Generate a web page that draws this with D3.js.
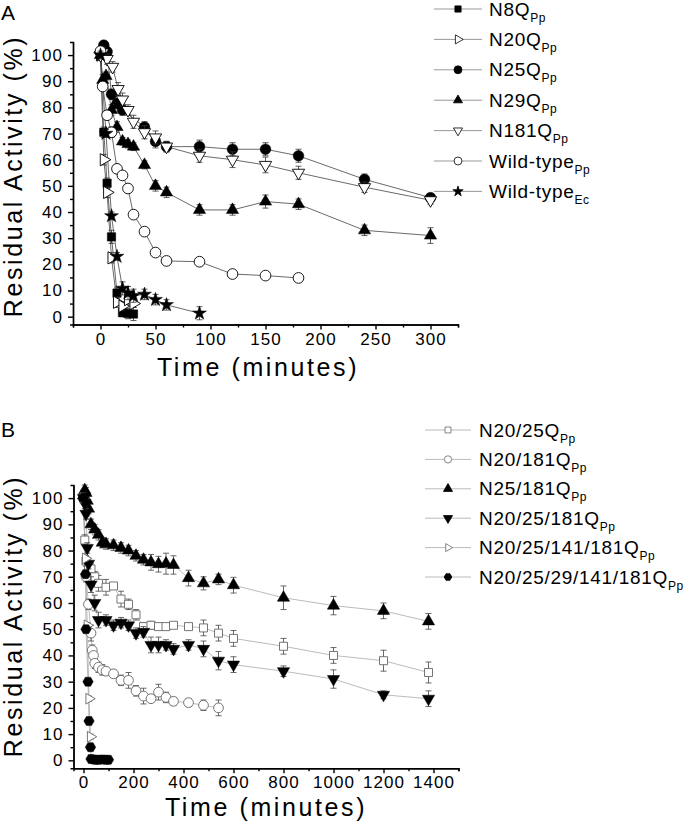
<!DOCTYPE html>
<meta charset="utf-8">
<html>
<head>
  <script src="https://d3js.org/d3.v7.min.js"></script>
  <style>
    body { margin: 0; background: #fff; }
    svg text { font-family: 'Liberation Sans', Arial, sans-serif; fill: #000; }
    .axis path, .axis line { stroke: #000; stroke-width: 1.4; fill: none; }
    .axis text { font-size: 17px; letter-spacing: 1.1px; }
    .title { font-size: 25px; letter-spacing: 2.6px; }
    .leg { font-size: 19px; letter-spacing: 0.7px; }
  </style>
</head>
<body>
<script>
// ---- Panel A data (time in minutes, residual activity %) ----
var n8qT = [0, 3, 6, 10, 15, 20, 25, 30];
var n8qV = [100, 70.5, 51, 30.5, 9, 1.5, 1.2, 1];
var n8qE = [1.5, 2, 2, 2.5, 2, 1.5, 2, 2.5];

var n20qT = [0, 3, 6, 10, 15, 20, 25, 30];
var n20qV = [100, 60, 47.5, 22.5, 5.5, 4, 6.5, 5];
var n20qE = [1.5, 2, 2, 2, 2, 1.5, 2, 1.5];

var n25qT = [0, 3, 6, 10, 15, 20, 40, 50, 60, 90, 120, 150, 180, 240, 300];
var n25qV = [101, 103.8, 101.3, 85, 81.5, 79, 72.5, 67, 65, 65, 64, 64, 61.5, 52.5, 45.5];
var n25qE = [1, 1.5, 1.5, 2, 2, 2, 2, 2.5, 2, 2.5, 2.5, 2.5, 2.5, 2, 1.5];

var n29qT = [0, 2, 5, 10, 15, 20, 25, 30, 40, 50, 60, 90, 120, 150, 180, 240, 300];
var n29qV = [100, 90.5, 92, 79, 72.5, 67, 66, 65, 58, 50, 47.5, 40.8, 40.8, 44, 43, 33, 31];
var n29qE = [1.5, 2, 1.5, 2, 2, 1.5, 1.5, 1.5, 1.5, 2, 2, 2, 2, 2.5, 2, 2, 3];

var n181qT = [0, 2, 6, 11, 16, 20, 25, 30, 40, 50, 60, 90, 120, 150, 180, 240, 300];
var n181qV = [100, 101, 98.5, 95.5, 87, 83, 79, 74.5, 70.5, 68.5, 65, 61.5, 60, 58, 55, 49.5, 44.5];
var n181qE = [1.5, 2, 2, 2, 2.5, 2.5, 2, 2.5, 2.5, 2.5, 2, 2.5, 3, 3, 2.5, 2, 1.5];

var wtPpT = [0, 2, 6, 10, 15, 20, 25, 30, 40, 50, 60, 90, 120, 150, 180];
var wtPpV = [101.5, 88, 77, 70.5, 56.5, 54, 49, 39, 32.5, 24.5, 21.3, 21, 16.3, 15.7, 14.8];
var wtPpE = [1.5, 1.5, 1.5, 2, 1.5, 1.5, 1.5, 1, 1, 1, 1, 1.5, 1, 1, 1];

var wtEcT = [0, 5, 10, 15, 20, 25, 30, 40, 50, 60, 90];
var wtEcV = [100, 70, 38.5, 23, 10.8, 9, 8, 8.5, 6.5, 4.5, 1.3];
var wtEcE = [1.5, 1.5, 1.5, 1.5, 2.5, 2.5, 2.5, 2, 2, 2, 2.5];

// ---- Panel B data ----
var d2025T = [0, 5, 10, 20, 30, 45, 60, 90, 120, 150, 180, 210, 240, 270, 300, 330, 360, 420, 480, 540, 600, 800, 1000, 1200, 1380];
var d2025V = [100, 84, 76, 73.5, 73, 70, 67.5, 66, 66.5, 61.5, 59.5, 55.5, 51, 51.5, 51, 51, 51.5, 51, 50.5, 48.5, 46.5, 43.5, 40, 38, 33.5];
var d2025E = [2, 2, 2, 2, 2, 2, 3, 3, 1, 3, 2, 2, 1.5, 1.5, 1, 1, 1, 1, 3, 3, 3, 3, 3, 4, 4];

var d20181T = [0, 10, 20, 30, 35, 40, 45, 60, 75, 90, 120, 150, 180, 210, 240, 270, 300, 330, 360, 420, 480, 540];
var d20181V = [100, 70, 59.5, 48.5, 42, 40, 37, 35.5, 34.5, 34, 33, 30.5, 30.5, 26.5, 24.5, 23.5, 26, 24, 22.5, 22, 21, 20];
var d20181E = [2, 2, 2, 3, 2, 2, 2, 2, 2, 1.5, 1.5, 2, 3, 2, 3, 1, 3, 2, 1.5, 1.5, 2, 3];

var d25181T = [0, 5, 10, 15, 20, 30, 45, 60, 75, 90, 120, 150, 180, 210, 240, 270, 300, 330, 360, 420, 480, 540, 600, 800, 1000, 1200, 1380];
var d25181V = [101, 103, 102, 99, 96, 90, 88, 86, 83, 82.5, 82, 81, 80, 78, 76.5, 75.5, 74.8, 75, 74.5, 69.5, 67.5, 69, 66.8, 62, 59, 57, 53];
var d25181E = [2, 2, 2, 2, 2, 2, 2, 2, 2, 2, 2, 2, 2, 2, 2, 3, 3, 4, 3.5, 3, 2.5, 2, 3, 4.5, 3.5, 3, 3];

var d2025181T = [0, 5, 10, 15, 20, 30, 45, 60, 90, 120, 150, 180, 210, 240, 270, 300, 330, 360, 420, 480, 540, 600, 800, 1000, 1200, 1380];
var d2025181V = [100, 98, 94, 81, 75, 67, 60, 53.5, 53.5, 51.5, 52.5, 51.5, 48.5, 49, 44, 44, 44, 42.5, 44, 42.5, 38, 36.5, 34, 31, 25, 23.5];
var d2025181E = [2, 2, 2, 2, 2, 3, 3, 3, 2, 2, 2, 2, 2, 2, 3, 3, 2, 2, 2, 3, 3.5, 3, 2, 3.5, 1.5, 3];

var d2025141181T = [0, 8, 15, 22, 28];
var d2025141181V = [100, 77, 51.5, 23.5, 9];
var d2025141181E = [1, 1, 1, 1, 1];

var d202529T = [0, 8, 10, 18, 22, 28, 30, 40, 50, 60, 75, 90, 100];
var d202529V = [100, 71, 50, 30, 15, 5, 0.5, 0.3, 0.2, 0.2, 0.3, 0.2, 0.2];
var d202529E = [0.8, 0.8, 0.8, 0.8, 0.8, 0.8, 0.8, 0.8, 0.8, 0.8, 0.8, 0.8, 0.8];

// tick labels
var yTicks = [0, 10, 20, 30, 40, 50, 60, 70, 80, 90, 100];
var xTicksA = [0, 50, 100, 150, 200, 250, 300];
var xTicksB = [0, 200, 400, 600, 800, 1000, 1200, 1400];

// hexagon symbol (flat top)
var symbolHexagon = {
  draw: function(ctx, size) {
    var r = Math.sqrt(size / (1.5 * Math.sqrt(3)));
    for (var i = 0; i < 6; i++) {
      var a = i * Math.PI / 3;
      if (i === 0) ctx.moveTo(r * Math.cos(a), r * Math.sin(a));
      else ctx.lineTo(r * Math.cos(a), r * Math.sin(a));
    }
    ctx.closePath();
  }
};

function zip(t, v, e) {
  return t.map(function(d, i) { return { t: d, v: v[i], e: e[i] }; });
}

var svg = d3.select("body").append("svg")
  .attr("width", 693).attr("height", 824);

function drawPanel(p) {
  var x = d3.scaleLinear().domain(p.xDomain).range(p.xRange);
  var y = d3.scaleLinear().domain([-3, 105]).range(p.yRange);
  var g = svg.append("g");

  // minor ticks
  g.append("g").attr("class", "axis")
    .attr("transform", "translate(" + p.xRange[0] + ",0)")
    .call(d3.axisLeft(y).tickValues(d3.range(5, 105, 10)).tickSize(3).tickFormat(""));
  g.append("g").attr("class", "axis")
    .attr("transform", "translate(0," + p.yRange[0] + ")")
    .call(d3.axisBottom(x).tickValues(p.xMinor).tickSize(3).tickFormat(""));

  // major axes
  g.append("g").attr("class", "axis")
    .attr("transform", "translate(" + p.xRange[0] + ",0)")
    .call(d3.axisLeft(y).tickValues(yTicks).tickSize(5).tickSizeOuter(0).tickPadding(5).tickFormat(d3.format("d")));
  g.append("g").attr("class", "axis")
    .attr("transform", "translate(0," + p.yRange[0] + ")")
    .call(d3.axisBottom(x).tickValues(p.xTicks).tickSize(5).tickSizeOuter(0).tickPadding(3).tickFormat(d3.format("d")));

  // titles
  g.append("text").attr("class", "title")
    .attr("x", p.xTitleX).attr("y", p.xTitleY)
    .attr("text-anchor", "middle").text("Time (minutes)");
  g.append("text").attr("class", "title")
    .attr("transform", "translate(22," + p.yTitleY + ") rotate(-90)")
    .attr("text-anchor", "middle").text("Residual Activity (%)");
  g.append("text").attr("x", 1).attr("y", p.letterY)
    .style("font-size", "21px").text(p.letter);

  var line = d3.line().x(function(d) { return x(d.t); }).y(function(d) { return y(d.v); });

  p.series.forEach(function(s) {
    var data = zip(s.t, s.v, s.e);
    g.append("path").datum(data)
      .attr("d", line).attr("fill", "none")
      .attr("stroke", p.lineColor).attr("stroke-width", 0.8);
  });

  p.series.forEach(function(s) {
    var data = zip(s.t, s.v, s.e);
    var eb = g.append("g").attr("stroke", p.errColor).attr("stroke-width", 0.8);
    data.forEach(function(d) {
      var cx = x(d.t), y1 = y(d.v + d.e), y2 = y(d.v - d.e);
      eb.append("line").attr("x1", cx).attr("x2", cx).attr("y1", y1).attr("y2", y2);
      eb.append("line").attr("x1", cx - 3).attr("x2", cx + 3).attr("y1", y1).attr("y2", y1);
      eb.append("line").attr("x1", cx - 3).attr("x2", cx + 3).attr("y1", y2).attr("y2", y2);
    });
    var sym = d3.symbol().type(s.type).size(s.size);
    g.append("g").selectAll("path").data(data).enter().append("path")
      .attr("d", sym)
      .attr("transform", function(d) { return "translate(" + x(d.t) + "," + y(d.v) + ") rotate(" + (s.rot || 0) + ")"; })
      .attr("fill", s.filled ? "#000" : "#fff")
      .attr("stroke", s.filled ? "#000" : p.openColor)
      .attr("stroke-width", s.filled ? 0.5 : 0.9);
  });

  // legend
  var lg = svg.append("g");
  p.series.forEach(function(s, i) {
    var cy = p.leg.y0 + i * p.leg.dy;
    lg.append("line").attr("x1", p.leg.x1).attr("x2", p.leg.x2)
      .attr("y1", cy).attr("y2", cy).attr("stroke", p.legLine).attr("stroke-width", 1);
    lg.append("path").attr("d", d3.symbol().type(s.type).size(s.size * 0.55))
      .attr("transform", "translate(" + p.leg.xm + "," + cy + ") rotate(" + (s.rot || 0) + ")")
      .attr("fill", s.filled ? "#000" : "#fff")
      .attr("stroke", s.filled ? "#000" : p.openColor).attr("stroke-width", 0.8);
    var tx = lg.append("text").attr("class", "leg").attr("x", p.leg.xt).attr("y", cy + 6.5).text(s.name);
    tx.append("tspan").attr("dy", 6).style("font-size", "12px").style("letter-spacing", "0.5px").text(s.sub);
  });
}

drawPanel({
  letter: "A", letterY: 20,
  xDomain: [-25, 325], xRange: [73, 458], yRange: [324.5, 42],
  xTicks: xTicksA, xMinor: d3.range(-25, 326, 50),
  xTitleX: 258, xTitleY: 376, yTitleY: 176,
  lineColor: "#444", errColor: "#333", openColor: "#000", legLine: "#999",
  leg: { x1: 434, x2: 482, xm: 458, xt: 489, y0: 9, dy: 30.4 },
  series: [
    { name: "N8Q", sub: "Pp", t: n8qT, v: n8qV, e: n8qE, type: d3.symbolSquare, size: 70, filled: true },
    { name: "N20Q", sub: "Pp", t: n20qT, v: n20qV, e: n20qE, type: d3.symbolTriangle, size: 65, rot: 90, filled: false },
    { name: "N25Q", sub: "Pp", t: n25qT, v: n25qV, e: n25qE, type: d3.symbolCircle, size: 90, filled: true },
    { name: "N29Q", sub: "Pp", t: n29qT, v: n29qV, e: n29qE, type: d3.symbolTriangle, size: 65, filled: true },
    { name: "N181Q", sub: "Pp", t: n181qT, v: n181qV, e: n181qE, type: d3.symbolTriangle, size: 65, rot: 180, filled: false },
    { name: "Wild-type", sub: "Pp", t: wtPpT, v: wtPpV, e: wtPpE, type: d3.symbolCircle, size: 90, filled: false },
    { name: "Wild-type", sub: "Ec", t: wtEcT, v: wtEcV, e: wtEcE, type: d3.symbolStar, size: 60, filled: true }
  ]
});

drawPanel({
  letter: "B", letterY: 437,
  xDomain: [-40, 1500], xRange: [73.5, 458.5], yRange: [768.2, 485],
  xTicks: xTicksB, xMinor: d3.range(100, 1501, 200),
  xTitleX: 266, xTitleY: 816, yTitleY: 616,
  lineColor: "#aaa", errColor: "#444", openColor: "#666", legLine: "#bbb",
  leg: { x1: 425, x2: 471, xm: 448, xt: 479, y0: 430, dy: 29.4 },
  series: [
    { name: "N20/25Q", sub: "Pp", t: d2025T, v: d2025V, e: d2025E, type: d3.symbolSquare, size: 64, filled: false },
    { name: "N20/181Q", sub: "Pp", t: d20181T, v: d20181V, e: d20181E, type: d3.symbolCircle, size: 75, filled: false },
    { name: "N25/181Q", sub: "Pp", t: d25181T, v: d25181V, e: d25181E, type: d3.symbolTriangle, size: 65, filled: true },
    { name: "N20/25/181Q", sub: "Pp", t: d2025181T, v: d2025181V, e: d2025181E, type: d3.symbolTriangle, size: 65, rot: 180, filled: true },
    { name: "N20/25/141/181Q", sub: "Pp", t: d2025141181T, v: d2025141181V, e: d2025141181E, type: d3.symbolTriangle, size: 50, rot: 90, filled: false },
    { name: "N20/25/29/141/181Q", sub: "Pp", t: d202529T, v: d202529V, e: d202529E, type: symbolHexagon, size: 70, filled: true }
  ]
});
</script>
</body>
</html>
